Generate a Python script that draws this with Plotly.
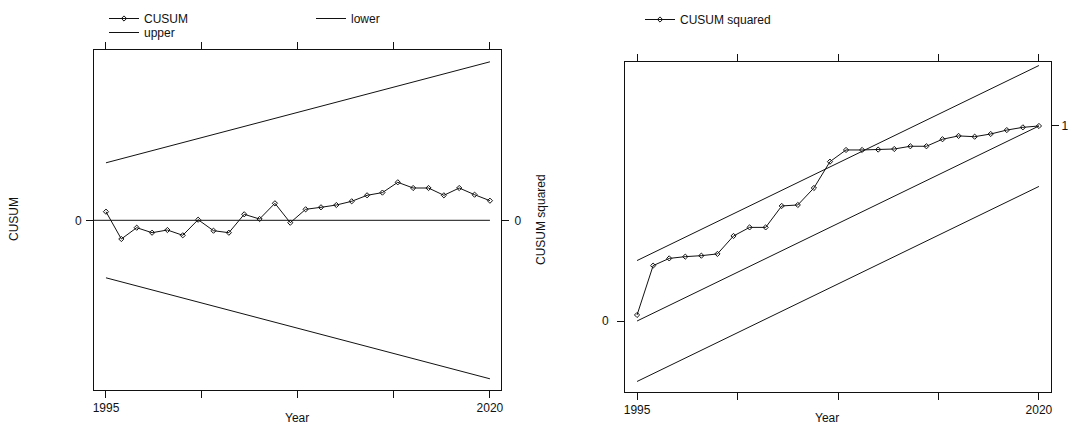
import plotly.graph_objects as go

# ---------------- data ----------------
years = list(range(1995, 2021))
cusum = [0.86, -1.87, -0.74, -1.24, -0.97, -1.50, 0.06, -1.04, -1.24, 0.60,
         0.13, 1.70, -0.24, 1.10, 1.30, 1.53, 1.90, 2.50, 2.77, 3.80,
         3.23, 3.23, 2.50, 3.23, 2.56, 1.96]
bound_years = [1995, 2020]
cusum_upper = [5.75, 15.85]
cusum_lower = [-5.75, -15.85]

cusumsq = [0.031, 0.284, 0.321, 0.330, 0.335, 0.344, 0.436, 0.480, 0.480, 0.590,
           0.595, 0.682, 0.817, 0.877, 0.877, 0.879, 0.882, 0.896, 0.896, 0.932,
           0.949, 0.945, 0.959, 0.979, 0.993, 1.000]
cusumsq_expected = [0.0, 1.0]
cusumsq_upper = [0.31, 1.31]
cusumsq_lower = [-0.31, 0.69]

x_tickvals = [1995, 2001.25, 2007.5, 2013.75, 2020]
x_ticktext = ["1995", "", "", "", "2020"]

# ---------------- style ----------------
FONT = "Liberation Sans, Arial, sans-serif"
INK = "#111111"
W, H = 1069, 427
line_style = dict(color=INK, width=1)
marker_style = dict(symbol="diamond-open", size=4, color=INK, line=dict(width=1, color=INK))

def px_x(p):
    return p / W

def px_y(p):
    return 1 - p / H

fig = go.Figure()

# Left panel
fig.add_trace(go.Scatter(x=years, y=cusum, mode="lines+markers", name="CUSUM",
                         line=line_style, marker=marker_style,
                         xaxis="x", yaxis="y", legend="legend"))
fig.add_trace(go.Scatter(x=bound_years, y=cusum_lower, mode="lines", name="lower",
                         line=line_style, xaxis="x", yaxis="y", legend="legend"))
fig.add_trace(go.Scatter(x=bound_years, y=cusum_upper, mode="lines", name="upper",
                         line=line_style, xaxis="x", yaxis="y", legend="legend2"))
x1_range = [1994.22, 2020.72]
fig.add_trace(go.Scatter(x=[x1_range[0], bound_years[-1]], y=[0, 0], mode="lines",
                         line=line_style, showlegend=False, hoverinfo="skip",
                         xaxis="x", yaxis="y3"))

# Right panel
fig.add_trace(go.Scatter(x=years, y=cusumsq, mode="lines+markers", name="CUSUM squared",
                         line=line_style, marker=marker_style,
                         xaxis="x2", yaxis="y2", legend="legend3"))
fig.add_trace(go.Scatter(x=bound_years, y=cusumsq_upper, mode="lines", line=line_style,
                         showlegend=False, xaxis="x2", yaxis="y2"))
fig.add_trace(go.Scatter(x=bound_years, y=cusumsq_lower, mode="lines", line=line_style,
                         showlegend=False, xaxis="x2", yaxis="y2"))
fig.add_trace(go.Scatter(x=bound_years, y=cusumsq_expected, mode="lines", line=line_style,
                         showlegend=False, xaxis="x2", yaxis="y4"))

tickfont = dict(family=FONT, size=12, color=INK)
xcommon = dict(tickmode="array", tickvals=x_tickvals, ticktext=x_ticktext,
               ticks="outside", ticklen=7, tickwidth=1, tickcolor=INK,
               showline=True, linecolor=INK, linewidth=1, mirror="ticks",
               showgrid=False, zeroline=False, tickfont=tickfont, automargin=False)
ycommon = dict(tickmode="array", ticks="outside", ticklen=7, tickwidth=1, tickcolor=INK,
               linecolor=INK, linewidth=1,
               showgrid=False, zeroline=False, tickfont=tickfont, automargin=False)

y1_range = [-16.97, 17.03]
y2_range = [-0.364, 1.328]
left_dom_x = [px_x(94), px_x(501)]
left_dom_y = [px_y(390), px_y(50)]
right_dom_x = [px_x(625), px_x(1051)]
right_dom_y = [px_y(392), px_y(62)]

legend_font = dict(family=FONT, size=12, color=INK)
ann_font = dict(family=FONT, size=12, color=INK)

fig.update_layout(
    width=W, height=H,
    margin=dict(l=0, r=0, t=0, b=0),
    paper_bgcolor="white", plot_bgcolor="white",
    font=dict(family=FONT, size=12, color=INK),
    xaxis=dict(domain=left_dom_x, range=x1_range, anchor="y", **xcommon),
    yaxis=dict(domain=left_dom_y, range=y1_range, anchor="x", tickvals=[0],
               ticktext=["0"], showline=True, mirror=True, ticklabelstandoff=2, **ycommon),
    yaxis3=dict(range=y1_range, overlaying="y", side="right", anchor="x",
                tickvals=[0], ticktext=["0"], showline=False, ticklabelstandoff=3, **ycommon),
    xaxis2=dict(domain=right_dom_x, range=[1994.25, 2020.75], anchor="y2", **xcommon),
    yaxis2=dict(domain=right_dom_y, range=y2_range, anchor="x2", tickvals=[0],
                ticktext=["0"], showline=True, mirror=True, ticklabelstandoff=6, **ycommon),
    yaxis4=dict(range=y2_range, overlaying="y2", side="right", anchor="x2",
                tickvals=[1], ticktext=["1"], showline=False, ticklabelstandoff=0, **ycommon),
    legend=dict(orientation="h", x=px_x(104), xanchor="left", y=px_y(4), yanchor="top",
                entrywidth=162, entrywidthmode="pixels", bgcolor="rgba(0,0,0,0)",
                font=legend_font),
    legend2=dict(orientation="h", x=px_x(104), xanchor="left", y=px_y(18), yanchor="top",
                 bgcolor="rgba(0,0,0,0)", font=legend_font),
    legend3=dict(orientation="h", x=px_x(640), xanchor="left", y=px_y(5), yanchor="top",
                 bgcolor="rgba(0,0,0,0)", font=legend_font),
    annotations=[
        dict(text="CUSUM", x=px_x(14), y=px_y(219), xref="paper", yref="paper",
             xanchor="center", yanchor="middle", textangle=-90, showarrow=False, font=ann_font),
        dict(text="CUSUM squared", x=px_x(541), y=px_y(220), xref="paper", yref="paper",
             xanchor="center", yanchor="middle", textangle=-90, showarrow=False, font=ann_font),
        dict(text="Year", x=px_x(297), y=px_y(418), xref="paper", yref="paper",
             xanchor="center", yanchor="middle", showarrow=False, font=ann_font),
        dict(text="Year", x=px_x(827), y=px_y(418), xref="paper", yref="paper",
             xanchor="center", yanchor="middle", showarrow=False, font=ann_font),
    ],
)

fig.write_html("out.html", post_script="document.body.style.margin='0';",
               config={"displayModeBar": False})
